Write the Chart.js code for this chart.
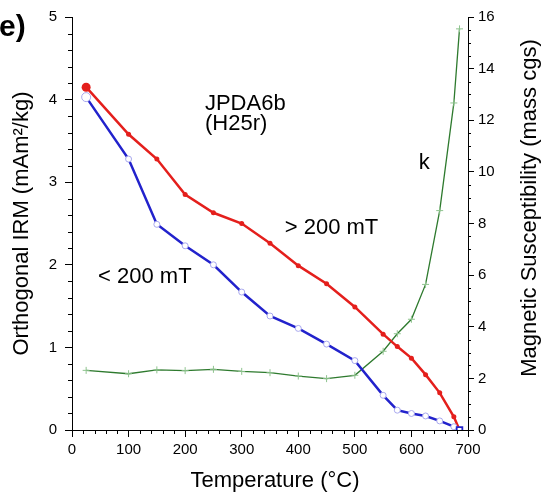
<!DOCTYPE html>
<html>
<head>
<meta charset="utf-8">
<script src="https://cdn.jsdelivr.net/npm/chart.js@4.4.1/dist/chart.umd.min.js"></script>
<style>
html, body { margin: 0; padding: 0; background: #fff; }
#wrap { width: 559px; height: 497px; position: relative; }
</style>
</head>
<body>
<div id="wrap"><canvas id="chart"></canvas></div>
<script>
// step temperatures (°C)
const temps = [25, 100, 150, 200, 250, 300, 350, 400, 450, 500, 550, 575, 600, 625, 650, 675, 685];
// orthogonal IRM, mAm2/kg
const irmHigh = [4.15, 3.58, 3.28, 2.85, 2.63, 2.50, 2.26, 1.99, 1.77, 1.49, 1.16, 1.01, 0.87, 0.67, 0.45, 0.16, 0.0];
const irmLow = [4.03, 3.28, 2.49, 2.23, 2.00, 1.67, 1.38, 1.23, 1.04, 0.84, 0.42, 0.24, 0.20, 0.17, 0.11, 0.04, 0.0];
// susceptibility k, mass cgs
const suscK = [2.31, 2.18, 2.33, 2.30, 2.35, 2.27, 2.22, 2.09, 1.99, 2.12, 3.05, 3.73, 4.29, 5.64, 8.5, 12.67, 15.54];

const xTicks = [0, 100, 200, 300, 400, 500, 600, 700];
const yTicks = [0, 1, 2, 3, 4, 5];
const y2Ticks = [0, 2, 4, 6, 8, 10, 12, 14, 16];

const FONT = '"Liberation Sans", Arial, Helvetica, sans-serif';

function pts(vals) {
    return temps.map((t, i) => ({ x: t, y: vals[i] }));
}

// text labels in data units (°C, left axis)
const notes = [
    { x: 235, y: 3.87, text: 'JPDA6b' },
    { x: 235, y: 3.63, text: '(H25r)' },
    { x: 613, y: 3.16, text: 'k' },
    { x: 376, y: 2.37, text: '> 200 mT' },
    { x: 46, y: 1.78, text: '< 200 mT' }
];

const extras = {
    id: 'extras',
    afterDraw(chart) {
        const { ctx, chartArea, scales } = chart;
        ctx.save();
        ctx.strokeStyle = '#000';
        ctx.lineWidth = 1;
        ctx.beginPath();
        // minor ticks
        for (let v = 0; v <= 700; v += 20) {
            if (v % 100 === 0) continue;
            const px = Math.round(scales.x.getPixelForValue(v)) + 0.5;
            ctx.moveTo(px, chartArea.bottom);
            ctx.lineTo(px, chartArea.bottom + 4);
        }
        for (let v = 0; v <= 5.001; v += 0.2) {
            if (Math.abs(v - Math.round(v)) < 0.01) continue;
            const py = Math.round(scales.y.getPixelForValue(v)) + 0.5;
            ctx.moveTo(chartArea.left, py);
            ctx.lineTo(chartArea.left - 4, py);
        }
        for (let v = 0.5; v < 16; v += 0.5) {
            if (Math.abs(v / 2 - Math.round(v / 2)) < 0.01) continue;
            const py = Math.round(scales.y2.getPixelForValue(v)) + 0.5;
            ctx.moveTo(chartArea.right, py);
            ctx.lineTo(chartArea.right + 3, py);
        }
        ctx.stroke();

        ctx.fillStyle = '#000';
        ctx.textAlign = 'left';
        ctx.textBaseline = 'alphabetic';
        ctx.font = '22px ' + FONT;
        notes.forEach(n => {
            ctx.fillText(n.text, scales.x.getPixelForValue(n.x), scales.y.getPixelForValue(n.y));
        });

        // panel letter
        ctx.font = 'bold 30px ' + FONT;
        ctx.fillText('e)', -1, 36);

        // x axis title
        ctx.font = '22px ' + FONT;
        ctx.textAlign = 'center';
        ctx.textBaseline = 'middle';
        ctx.fillText('Temperature (°C)', 275, 481);

        // right axis title, reading bottom to top
        ctx.translate(530, 208);
        ctx.rotate(-Math.PI / 2);
        ctx.fillText('Magnetic Susceptibility (mass cgs)', 0, 0);
        ctx.restore();
    }
};

const ctx = document.getElementById('chart').getContext('2d');
const chart = new Chart(ctx, {
    type: 'line',
    data: {
        datasets: [
            {
                label: '> 200 mT',
                data: pts(irmHigh),
                yAxisID: 'y',
                borderColor: '#e41f1c',
                backgroundColor: '#e41f1c',
                borderWidth: 2.5,
                pointRadius: temps.map((t, i) => i === 0 ? 4.5 : 2.5),
                pointBorderWidth: 0,
                pointBackgroundColor: '#e41f1c',
                order: 2
            },
            {
                label: '< 200 mT',
                data: pts(irmLow),
                yAxisID: 'y',
                borderColor: '#2222cc',
                borderWidth: 2.5,
                pointStyle: temps.map((t, i) => i === temps.length - 1 ? 'rect' : 'circle'),
                pointRadius: temps.map((t, i) => i === 0 ? 4.5 : (i === temps.length - 1 ? 4 : 3)),
                pointBackgroundColor: '#ffffff',
                pointBorderColor: temps.map((t, i) => i === temps.length - 1 ? '#2222cc' : '#a9a9ee'),
                pointBorderWidth: temps.map((t, i) => i === temps.length - 1 ? 1.8 : 1),
                order: 1
            },
            {
                label: 'k',
                data: pts(suscK),
                yAxisID: 'y2',
                borderColor: '#2e7a2e',
                borderWidth: 1.3,
                pointStyle: 'cross',
                pointRadius: 3.5,
                pointBorderColor: '#8fc48f',
                pointBorderWidth: 1,
                order: 3
            }
        ]
    },
    options: {
        responsive: true,
        maintainAspectRatio: false,
        animation: false,
        layout: { padding: { top: 14, left: 0, right: 0, bottom: 0 } },
        plugins: {
            legend: { display: false },
            tooltip: { enabled: false }
        },
        scales: {
            x: {
                type: 'linear',
                min: 0,
                max: 700,
                afterFit: s => { s.height = 67; },
                afterBuildTicks: s => { s.ticks = xTicks.map(v => ({ value: v })); },
                border: { display: true, color: '#000', width: 1 },
                grid: { drawOnChartArea: false, color: '#000', tickLength: 7 },
                ticks: { color: '#000', font: { family: FONT, size: 15 }, padding: 4, maxRotation: 0 }
            },
            y: {
                position: 'left',
                min: 0,
                max: 5,
                afterFit: s => { s.width = 72; },
                afterBuildTicks: s => { s.ticks = yTicks.map(v => ({ value: v })); },
                border: { display: true, color: '#000', width: 1 },
                grid: { drawOnChartArea: false, color: '#000', tickLength: 7 },
                ticks: { color: '#000', font: { family: FONT, size: 15 }, padding: 8 },
                title: { display: true, text: 'Orthogonal IRM (mAm²/kg)', color: '#000', font: { family: FONT, size: 22 }, padding: { top: 9, bottom: 0 } }
            },
            y2: {
                position: 'right',
                min: 0,
                max: 16,
                afterFit: s => { s.width = 91; },
                afterBuildTicks: s => { s.ticks = y2Ticks.map(v => ({ value: v })); },
                border: { display: true, color: '#000', width: 1 },
                grid: { drawOnChartArea: false, color: '#000', tickLength: 6 },
                ticks: { color: '#000', font: { family: FONT, size: 15 }, padding: 4 }
            }
        }
    },
    plugins: [extras]
});
</script>
</body>
</html>
